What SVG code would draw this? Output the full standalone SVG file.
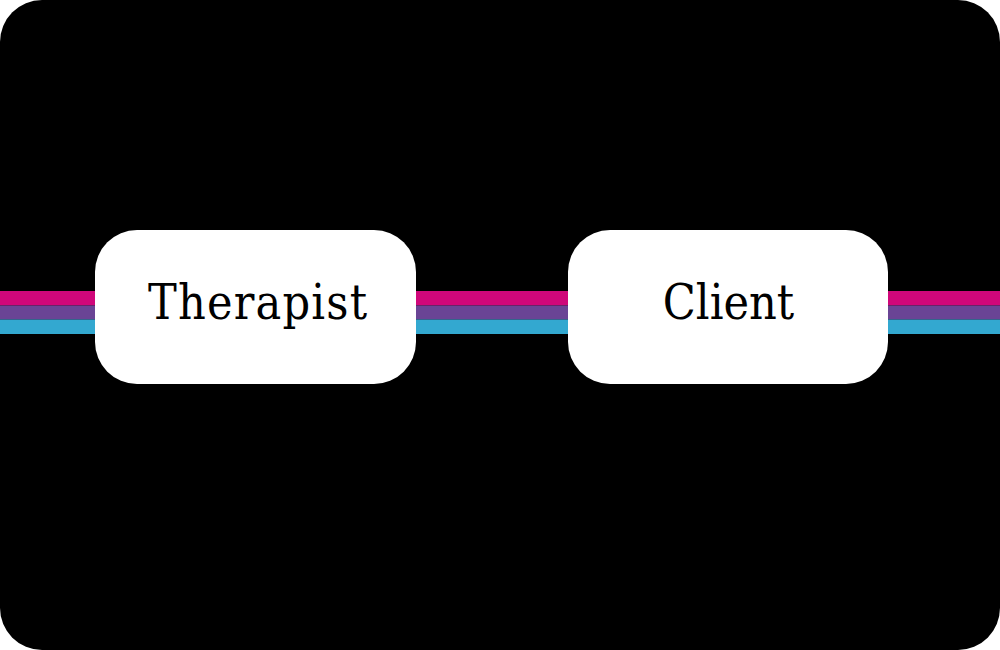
<svg xmlns="http://www.w3.org/2000/svg" width="1000" height="650" viewBox="0 0 1000 650">
<style>
.node rect{fill:#fff}
.node text{font-family:"DejaVu Serif Condensed","DejaVu Serif",serif;font-stretch:condensed;font-size:48px;fill:#000;text-anchor:middle}
</style>
<rect x="0" y="0" width="1000" height="650" fill="#fff"/>
<rect x="0" y="0" width="1000" height="650" rx="42" fill="#000"/>
<g id="connectors">
<rect x="0" y="291" width="1000" height="14.5" fill="#D0077A"/>
<rect x="0" y="305.5" width="1000" height="14" fill="#6A4495"/>
<rect x="0" y="319.5" width="1000" height="14.5" fill="#33A8D0"/>
</g>
<g id="therapist" class="node">
<rect x="95" y="230" width="321" height="154" rx="42"/>
<text x="257.5" y="319" textLength="219" lengthAdjust="spacing">Therapist</text>
</g>
<g id="client" class="node">
<rect x="568" y="230" width="320" height="154" rx="42"/>
<text x="728.5" y="319">Client</text>
</g>
</svg>
